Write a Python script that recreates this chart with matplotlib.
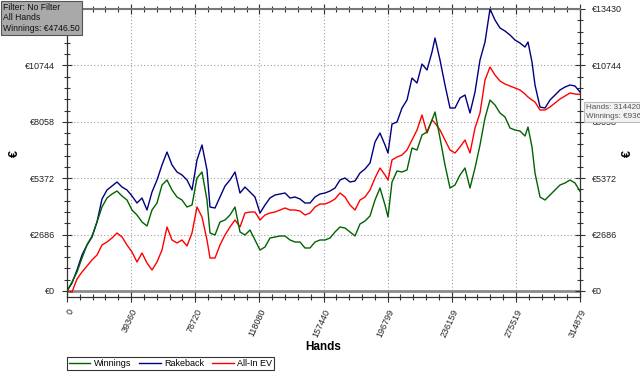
import matplotlib
matplotlib.use("Agg")
import matplotlib.pyplot as plt
from matplotlib.ticker import FixedLocator, AutoMinorLocator, FuncFormatter

plt.rcParams['font.family'] = ['Liberation Sans', 'DejaVu Sans']

hands = [0, 3069, 6138, 9207, 12276, 15345, 18414, 21483, 24552, 27621,
         30690, 33759, 36828, 39897, 42966, 46035, 49104, 52173, 55242, 58311,
         61380, 64449, 67518, 70587, 73656, 76725, 79794, 82863, 85932, 87773,
         90842, 93911, 96980, 100049, 103118, 106187, 109256, 112325, 115394, 118463,
         121532, 124601, 127670, 130739, 133808, 136877, 139946, 143015, 146084, 149153,
         152222, 155291, 158360, 161429, 164498, 167567, 170636, 173705, 176774, 179843,
         182912, 185981, 189050, 192119, 195188, 197030, 199485, 202554, 205623, 208692,
         211761, 214830, 217899, 220968, 224037, 225878, 228947, 232016, 235085, 238154,
         241223, 244292, 247361, 250430, 253499, 256568, 259637, 262706, 265775, 268844,
         271913, 274982, 278051, 281120, 282962, 285417, 287258, 290327, 293396, 296465,
         299534, 302603, 305672, 308741, 311810, 314879]

winnings = [0, 429, 905, 1571, 2191, 2619, 3286, 4000, 4429, 4619,
            4762, 4524, 4333, 3857, 3619, 3286, 3095, 3857, 4191, 5048,
            5286, 4810, 4476, 4333, 4000, 4095, 5381, 5667, 4333, 2762,
            2667, 3286, 3381, 3619, 4000, 2810, 2667, 2905, 2429, 1952,
            2095, 2524, 2572, 2619, 2619, 2429, 2333, 2333, 2048, 2048,
            2333, 2429, 2429, 2524, 2810, 3048, 3000, 2810, 2619, 3191,
            3333, 3572, 4333, 4905, 4095, 3524, 5191, 5714, 5667, 5762,
            6810, 6714, 7429, 7572, 8143, 8524, 7286, 6000, 4905, 5048,
            5524, 5857, 4905, 5857, 6953, 8238, 9095, 8857, 8476, 8286,
            7762, 7667, 7619, 7381, 7810, 6857, 5619, 4476, 4333, 4572,
            4810, 5048, 5143, 5286, 5143, 4746.5]

rakeback = [0, 381, 1000, 1714, 2191, 2572, 3286, 4381, 4810, 5000,
            5191, 4952, 4810, 4524, 4191, 4429, 3857, 4714, 5286, 6000,
            6619, 6000, 5667, 5524, 5286, 4810, 6238, 6953, 5762, 4000,
            3952, 4476, 5000, 5286, 5667, 4667, 4952, 4714, 4476, 3714,
            4095, 4429, 4572, 4619, 4667, 4429, 4476, 4381, 4191, 4191,
            4476, 4619, 4667, 4762, 4905, 5286, 5381, 5191, 5238, 5619,
            5810, 6095, 7095, 7524, 6953, 6572, 7953, 8048, 8714, 9095,
            10143, 9905, 10810, 10524, 11381, 12048, 11000, 9810, 8714, 8714,
            9191, 9334, 8476, 9476, 11000, 11857, 13430, 12905, 12524, 12381,
            12191, 11953, 11810, 11619, 11857, 10905, 9810, 8762, 8714, 9095,
            9334, 9572, 9714, 9810, 9762, 9476]

allin_ev = [0, -48, 571, 905, 1190, 1476, 1714, 2191, 2333, 2524,
            2762, 2572, 2191, 1857, 1381, 1810, 1333, 1000, 1381, 1952,
            3048, 2429, 2286, 2429, 2143, 2762, 4000, 3524, 2429, 1571,
            1571, 2191, 2667, 3048, 3381, 3048, 3714, 3762, 3762, 3381,
            3619, 3714, 3762, 3857, 3952, 3857, 3857, 3810, 3619, 3714,
            4000, 4143, 4143, 4238, 4381, 4667, 4476, 4095, 3857, 4333,
            4476, 4810, 5381, 5857, 5524, 5286, 6238, 6381, 6476, 6714,
            7191, 7667, 8381, 7524, 8143, 8000, 7667, 7191, 6714, 6572,
            6857, 7191, 6572, 7762, 8476, 10048, 10667, 10286, 10000, 9857,
            9762, 9667, 9572, 9381, 9238, 9095, 9000, 8619, 8619, 8762,
            8953, 9143, 9286, 9429, 9381, 9363]

x_ticks = [0, 39360, 78720, 118080, 157440, 196799, 236159, 275519, 314879]
y_ticks = [0, 2686, 5372, 8058, 10744, 13430]
series_names = ["Winnings", "Rakeback", "All-In EV"]
series_colors = ["#006400", "#000080", "#ff0000"]

W, H = 640, 373
fig = plt.figure(figsize=(W / 100, H / 100), dpi=100)
ax = fig.add_axes([67 / W, (H - 297) / H, 513 / W, 288 / H])
ax.set_xlim(0, 314879)
ax.set_ylim(-286, 13430)

# grid
for xt in x_ticks[1:-1]:
    ax.axvline(xt, color="#a0a0a0", lw=0.8, ls=(0, (1, 2)), zorder=0)
for yt in y_ticks[1:-1]:
    ax.axhline(yt, color="#a0a0a0", lw=0.8, ls=(0, (1, 2)), zorder=0)
ax.axhline(0, color="#8c8c8c", lw=2.0, zorder=1)

lines = []
for vals, name, col in [(winnings, series_names[0], series_colors[0]),
                        (rakeback, series_names[1], series_colors[1]),
                        (allin_ev, series_names[2], series_colors[2])]:
    ln, = ax.plot(hands, vals, color=col, lw=1.0, label=name, zorder=3)
    lines.append(ln)
lines[0].set_zorder(4)

ax.xaxis.set_major_locator(FixedLocator(x_ticks))
ax.xaxis.set_minor_locator(AutoMinorLocator(5))
ax.yaxis.set_major_locator(FixedLocator(y_ticks))
ax.yaxis.set_minor_locator(AutoMinorLocator(5))
ax.set_xticklabels([str(v) for v in x_ticks], rotation=65, ha="right", va="top",
                   rotation_mode="anchor", fontsize=6.5, color="#333333")
ax.yaxis.set_major_formatter(FuncFormatter(lambda v, p: "€%d" % v))

ax.tick_params(axis="both", which="major", direction="inout", length=7, width=0.8,
               color="#333333", labelsize=6.5, labelcolor="#222222")
ax.tick_params(axis="both", which="minor", direction="inout", length=5, width=0.8,
               color="#333333")
ax.tick_params(axis="y", which="both", left=True, right=True, labelleft=True, labelright=True, pad=5)
ax.tick_params(axis="x", which="both", bottom=True, top=True, labeltop=False, pad=4)

for s in ["left", "right", "bottom"]:
    ax.spines[s].set_color("#333333")
    ax.spines[s].set_linewidth(0.9)
ax.spines["top"].set_color("#777777")
ax.spines["top"].set_linewidth(1.5)

fig.text(15 / W, 1 - 153 / H, "€", rotation=90, fontsize=9, fontweight="bold",
         ha="center", va="center")
fig.text(628 / W, 1 - 153 / H, "€", rotation=90, fontsize=9, fontweight="bold",
         ha="center", va="center")
fig.text(323 / W, 1 - 347 / H, "Hands", fontsize=8.5, fontweight="bold",
         ha="center", va="center")

leg = fig.legend(handles=lines, labels=series_names, loc="lower left",
                 bbox_to_anchor=(67 / W, 3 / H), ncol=3, fontsize=6.5,
                 frameon=True, fancybox=False, edgecolor="#000000",
                 handlelength=2.4, handletextpad=0.35, columnspacing=0.9,
                 borderpad=0.2, borderaxespad=0)
leg.get_frame().set_linewidth(0.8)

fig.text(3 / W, 1 - 3 / H, "Filter: No Filter\nAll Hands\nWinnings: €4746.50",
         fontsize=6.2, ha="left", va="top", color="#111111", linespacing=1.2,
         bbox=dict(boxstyle="square,pad=0.25", facecolor="#a9a9a9",
                   edgecolor="#555555", lw=0.8))

fig.text(586 / W, 1 - 104 / H, "Hands: 314420\nWinnings: €9363.32",
         fontsize=5.8, ha="left", va="top", color="#555555", linespacing=1.35,
         bbox=dict(boxstyle="square,pad=0.3", facecolor="#f2f2f2",
                   edgecolor="#bbbbbb", lw=0.8))

fig.savefig("out.png", dpi=100)
